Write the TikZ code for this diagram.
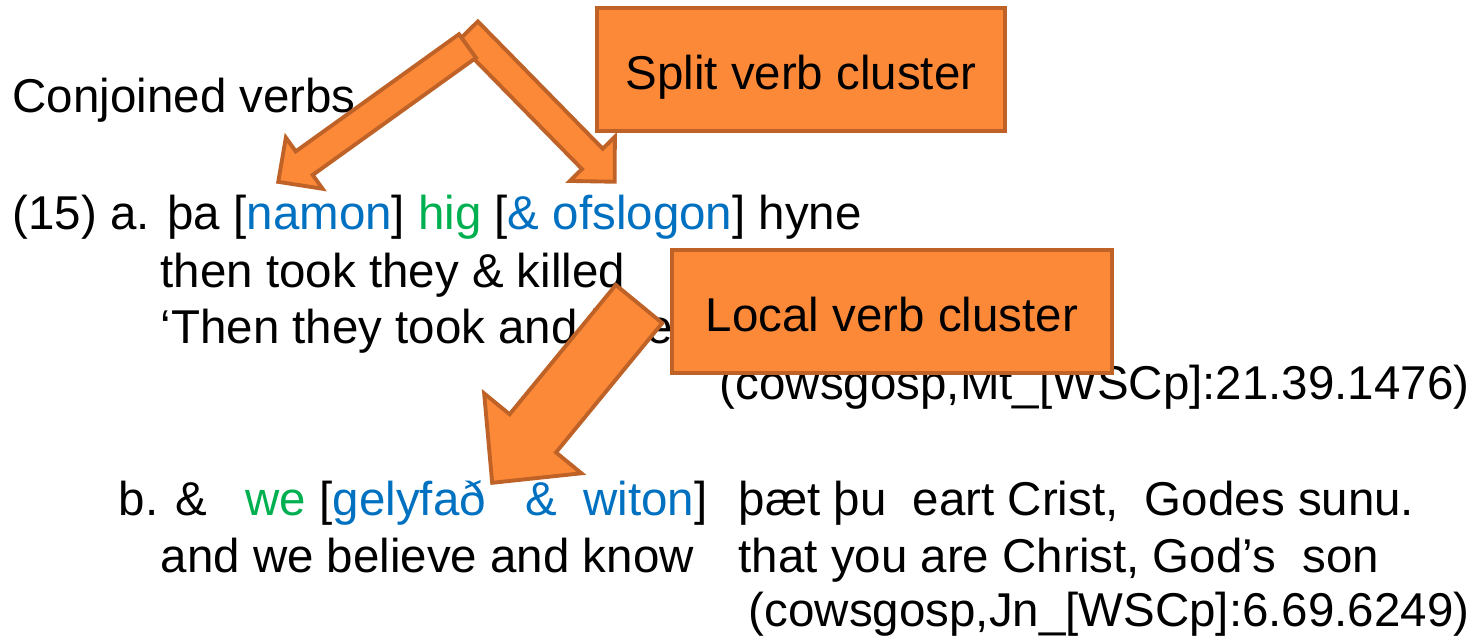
\documentclass[tikz,border=0pt]{standalone}
\usepackage{fontspec}
\setmainfont{Liberation Sans}
\usepackage{tikz}
\usetikzlibrary{positioning, calc}

\definecolor{verbblue}{RGB}{0,112,192}
\definecolor{subjgreen}{RGB}{0,176,80}
\definecolor{boxfill}{RGB}{252,137,56}
\definecolor{boxline}{RGB}{190,98,40}

\tikzset{
  gloss/.style={inner sep=0pt, anchor=base west},
  clusterbox/.style={draw=boxline, fill=boxfill, line width=1.1pt, inner sep=0pt,
    text height=11.6pt, text depth=0pt},
  arrowbody/.style={draw=boxline, fill=boxfill, line width=1.1pt, line join=miter}
}

% block arrow: tail, tip, half shaft, half head, head length
\newcommand{\blockarrow}[5]{%
  \filldraw[arrowbody] let \p1=($(#2)-(#1)$), \n1={atan2(\y1,\x1)}, \n2={veclen(\x1,\y1)} in
    [shift={(#1)}, rotate=\n1]
    (0pt,-#3) -- ({\n2*1pt-#5},-#3) -- ({\n2*1pt-#5},-#4) -- ({\n2*1pt},0pt)
    -- ({\n2*1pt-#5},#4) -- ({\n2*1pt-#5},#3) -- (0pt,#3) -- cycle;}

\begin{document}
\begin{tikzpicture}[x=0.01cm, y=-0.01cm, font=\fontsize{13.5}{16}\selectfont]
    \useasboundingbox (0,0) rectangle (1477,639);

    % Define nodes
    \node[gloss] (title) at (12,112) {Conjoined verbs};
    \node[gloss] (exa) at (12,229) {(15) a. þa [\textcolor{verbblue}{namon}] \textcolor{subjgreen}{hig} [\textcolor{verbblue}{\& ofslogon}] hyne};
    \node[gloss] (exagl) at (160,287) {then took they \& killed};
    \node[gloss] (exatr) at (160,343) {‘Then they took and killed him’};
    \node[gloss, anchor=base east] (exasrc) at (1470,399) {(cowsgosp,Mt\_[WSCp]:21.39.1476)};

    \node[gloss] (exb) at (118,515) {b. \&};
    \node[gloss] (exbv) at (245,515) {\textcolor{subjgreen}{we} [\textcolor{verbblue}{gelyfað}\ \ \ \textcolor{verbblue}{\&}\ \ \textcolor{verbblue}{witon}]};
    \node[gloss] (exbo) at (738,515) {þæt þu\ \ eart Crist,\ \ Godes sunu.};
    \node[gloss] (exbgl) at (160,572) {and we believe and know};
    \node[gloss] (exbglo) at (738,572) {that you are Christ, God’s\ \ son};
    \node[gloss, anchor=base east] (exbsrc) at (1470,626) {(cowsgosp,Jn\_[WSCp]:6.69.6249)};

    \node[clusterbox, minimum width=4.08cm, minimum height=1.23cm] (split) at (801,69.5) {Split verb cluster};
    \node[clusterbox, minimum width=4.40cm, minimum height=1.23cm] (local) at (892,311.5) {Local verb cluster};

    \coordinate (splitr) at (467.5,31.6);
    \coordinate (splitl) at (467.5,46);
    \coordinate (namon) at (278,182);
    \coordinate (ofsl) at (615,182);
    \coordinate (localt) at (639,304);
    \coordinate (gely) at (492,483);

    % Connect nodes
    \blockarrow{splitr}{ofsl}{4.13pt}{8.96pt}{9.1pt}
    \blockarrow{splitl}{namon}{4.13pt}{8.96pt}{9.1pt}
    \blockarrow{localt}{gely}{8.54pt}{17.9pt}{18.2pt}
\end{tikzpicture}
\end{document}
